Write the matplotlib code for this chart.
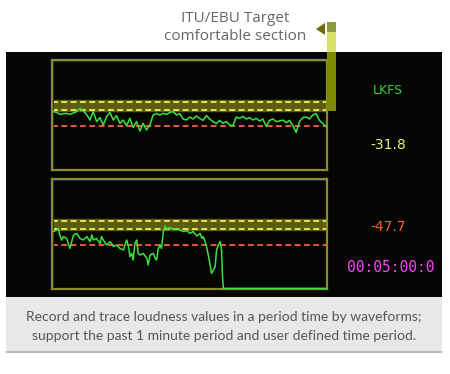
import numpy as np
import matplotlib
matplotlib.use("Agg")
import matplotlib.pyplot as plt
from matplotlib.patches import Rectangle, Polygon

# loudness traces (LKFS)
top_lkfs = [-30.8, -31.2, -32.2, -31.8, -31.7, -32.2, -31.5, -30.8, -29.2, -30.5,
            -32.2, -35.0, -30.8, -35.8, -33.8, -37.5, -33.3, -31.2, -35.0, -32.8,
            -36.7, -35.0, -37.8, -34.2, -38.8, -35.8, -40.5, -36.7, -40.0, -37.5,
            -32.5, -31.8, -32.5, -31.7, -32.2, -31.2, -30.8, -32.5, -31.8, -34.5,
            -35.0, -33.5, -34.5, -33.0, -34.2, -35.2, -32.8, -34.5, -35.8, -36.8,
            -35.2, -36.7, -35.8, -37.5, -37.8, -33.5, -34.2, -33.2, -34.5, -33.8,
            -35.0, -34.2, -35.5, -34.5, -38.2, -35.2, -34.5, -35.8, -35.5, -35.0,
            -36.3, -35.2, -37.8, -41.2, -35.8, -33.8, -33.5, -34.5, -32.5, -31.8,
            -35.2, -36.7, -38.3]
top_t = np.linspace(0.3, 59.8, len(top_lkfs))

bot_t = [0.3, 1.0, 1.4, 1.7, 2.1, 2.5, 3.2, 3.9, 4.3, 4.7, 5.4, 6.1, 6.8, 7.6, 8.3,
         8.7, 9.0, 9.7, 10.5, 10.8, 11.2, 11.9, 12.7, 13.4, 14.1, 14.8, 15.6, 15.9,
         16.3, 16.7, 17.0, 17.4, 17.7, 18.1, 18.5, 18.8, 19.2, 19.9, 20.7, 21.0,
         21.4, 22.1, 22.5, 22.8, 23.2, 23.6, 23.9, 24.3, 24.7, 25.0, 25.7, 26.5,
         27.2, 27.9, 28.7, 29.4, 30.1, 30.8, 31.6, 32.3, 32.7, 33.0, 33.4, 33.7,
         34.1, 34.5, 34.8, 35.2, 35.6, 35.9, 36.3, 36.7, 37.0, 37.2, 37.4, 59.8]
bot_lkfs = [-31.3, -30.5, -29.7, -33.0, -35.5, -33.8, -34.7, -39.7, -36.3, -33.0,
            -32.2, -34.7, -35.5, -33.8, -36.3, -33.0, -35.5, -34.7, -37.2, -33.8,
            -35.5, -38.0, -36.3, -38.8, -38.0, -39.7, -40.5, -38.0, -35.5, -38.8,
            -43.8, -42.2, -45.5, -37.2, -35.5, -42.2, -43.0, -42.2, -44.7, -48.0,
            -43.0, -42.2, -44.7, -45.5, -39.7, -38.0, -39.7, -31.3, -28.5, -30.2,
            -29.2, -30.2, -29.7, -30.5, -31.3, -30.8, -32.2, -31.3, -33.5, -32.2,
            -34.7, -33.8, -36.3, -38.8, -43.0, -48.0, -52.2, -50.5, -48.8, -40.5,
            -38.0, -36.3, -40.5, -53.8, -59.7, -59.7]

band = (-30.5, -25.0)        # ITU/EBU comfortable section
target_lines = [-26.0, -30.0]
low_line = -38.0

W, H = 450, 374
fig = plt.figure(figsize=(4.5, 3.74), dpi=100)
fig.patch.set_facecolor("white")


def box(x0, y0, x1, y1):
    # pixel box (top-left origin) -> figure fraction rect
    return [x0 / W, 1 - y1 / H, (x1 - x0) / W, (y1 - y0) / H]


def frect(x0, y0, x1, y1, **kw):
    r = Rectangle((x0 / W, 1 - y1 / H), (x1 - x0) / W, (y1 - y0) / H,
                  transform=fig.transFigure, **kw)
    fig.add_artist(r)


# black meter screen and caption band
frect(6, 52, 442, 297, facecolor="#030603", edgecolor="none", zorder=0)
frect(6, 297, 442, 351, facecolor="#e8e8e8", edgecolor="none", zorder=0)
frect(6, 351, 442, 352.5, facecolor="#b8b8b8", edgecolor="none", zorder=0)

# target marker bar and arrow
frect(327, 22, 336, 32, facecolor="#8c9c3c", edgecolor="none", zorder=1)
frect(327, 32, 336, 52, facecolor="#d6e06a", edgecolor="none", zorder=1)
frect(327, 52, 336, 111, facecolor="#7f8a00", edgecolor="none", zorder=4)
fig.add_artist(Polygon([(316 / W, 1 - 29 / H), (325 / W, 1 - 23 / H), (325 / W, 1 - 35 / H)],
                       closed=True, transform=fig.transFigure,
                       facecolor="#6a6a10", edgecolor="none"))

fig.text(235 / W, 1 - 19 / H, "ITU/EBU Target", ha="center", va="center",
         color="#666666", fontsize=11, family="Open Sans")
fig.text(235 / W, 1 - 36 / H, "comfortable section", ha="center", va="center",
         color="#666666", fontsize=11, family="Open Sans")


def meter(rect, t, v):
    ax = fig.add_axes(rect)
    ax.set_facecolor("#030603")
    ax.set_xlim(0, 60)
    ax.set_ylim(-60, -5)
    ax.axhspan(band[0], band[1], color="#5c5c12", zorder=1)
    for y in target_lines:
        ax.axhline(y, color="#e6e650", lw=1.4, linestyle=(0, (3, 1.8)), zorder=2)
    ax.axhline(low_line, color="#e8583a", lw=1.4, linestyle=(0, (3, 1.8)), zorder=2)
    ax.plot(t, v, color="#3ee040", lw=1.1, zorder=3, clip_on=False)
    ax.add_patch(Rectangle((0.004, 0.01), 0.992, 0.98, transform=ax.transAxes,
                           fill=False, edgecolor="#1a2070", lw=0.7, zorder=2))
    for s in ax.spines.values():
        s.set_color("#8c8c2c")
        s.set_linewidth(1.6)
    ax.set_xticks([])
    ax.set_yticks([])
    return ax


meter(box(52, 60, 327, 170), top_t, top_lkfs)
meter(box(52, 179, 327, 289), bot_t, bot_lkfs)

# readouts
fig.text(388 / W, 1 - 90 / H, "LKFS", ha="center", va="center",
         color="#34d034", fontsize=9)
fig.text(388 / W, 1 - 145 / H, "-31.8", ha="center", va="center",
         color="#f0f060", fontsize=10)
fig.text(388 / W, 1 - 227 / H, "-47.7", ha="center", va="center",
         color="#ff5a30", fontsize=10)
fig.text(391 / W, 1 - 268 / H, "00:05:00:0", ha="center", va="center",
         color="#ff40ff", fontsize=10.5, family="DejaVu Sans Mono")

fig.text(224 / W, 1 - 317 / H,
         "Record and trace loudness values in a period time by waveforms;",
         ha="center", va="center", color="#555555", fontsize=10, family="Lato")
fig.text(224 / W, 1 - 336 / H,
         "support the past 1 minute period and user defined time period.",
         ha="center", va="center", color="#555555", fontsize=10, family="Lato")

fig.savefig("out.png", dpi=100, facecolor="white")
